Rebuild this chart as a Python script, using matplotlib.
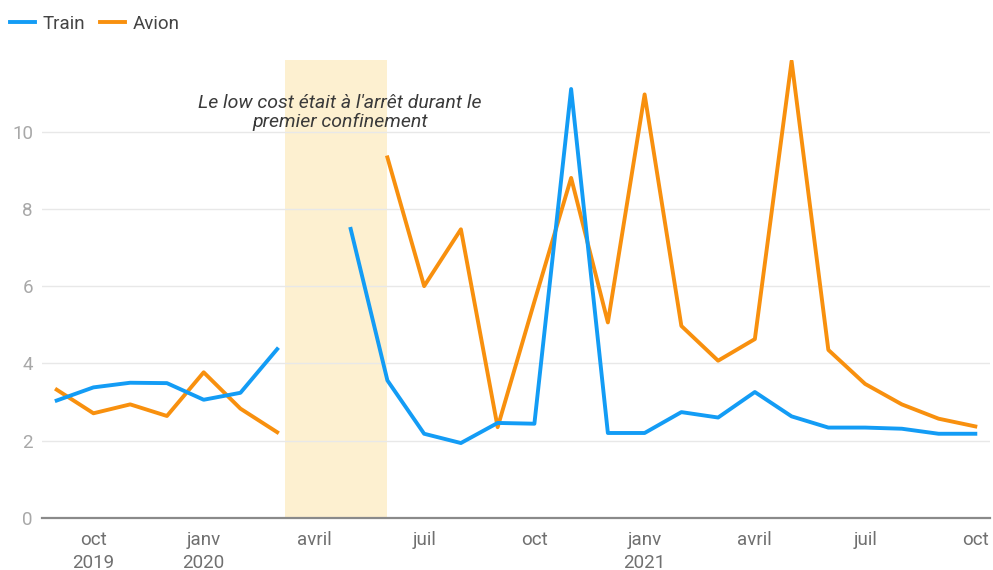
import numpy as np
import matplotlib.pyplot as plt

plt.rcParams['font.family'] = ['Roboto', 'DejaVu Sans']

# months from sept 2019 (0) to oct 2021 (25)
months = np.arange(26)

train = [3.04, 3.38, 3.50, 3.49, 3.06, 3.24, 4.37, np.nan, 7.48, 3.56,
         2.18, 1.94, 2.46, 2.44, 11.1, 2.2, 2.2, 2.74, 2.6, 3.26,
         2.63, 2.34, 2.34, 2.31, 2.18, 2.18]

avion = [3.32, 2.71, 2.94, 2.64, 3.77, 2.83, 2.22, np.nan, np.nan, 9.33,
         6.0, 7.47, 2.35, 5.6, 8.8, 5.06, 10.96, 4.97, 4.07, 4.63,
         11.82, 4.35, 3.47, 2.94, 2.57, 2.37]

tick_pos = [1, 4, 7, 10, 13, 16, 19, 22, 25]
tick_labels = ["oct\n2019", "janv\n2020", "avril", "juil", "oct",
               "janv\n2021", "avril", "juil", "oct"]

y_ticks = [0, 2, 4, 6, 8, 10]

# first lockdown, in month units
lockdown_start = 6.2
lockdown_end = 9.0

fig = plt.figure(figsize=(9.93, 5.70), dpi=100)
ax = fig.add_axes([0.0423, 0.0912, 0.9547, 0.8035])

ax.axvspan(lockdown_start, lockdown_end, color="#fdf0d0", lw=0, zorder=0)

ax.plot(months, train, color="#139cf5", lw=2.8, label="Train", zorder=3,
        solid_joinstyle="round")
ax.plot(months, avion, color="#f8900e", lw=2.8, label="Avion", zorder=2,
        solid_joinstyle="round")

ax.set_xlim(-0.4, 25.4)
ax.set_ylim(0, 11.85)

ax.set_yticks(y_ticks)
ax.set_xticks(tick_pos)
ax.set_xticklabels(tick_labels, linespacing=1.4)

ax.grid(axis="y", color="#e8e8e8", lw=1)
ax.set_axisbelow(True)
for s in ["top", "right", "left"]:
    ax.spines[s].set_visible(False)
ax.spines["bottom"].set_color("#8a8a8a")
ax.spines["bottom"].set_linewidth(1.6)
ax.spines["bottom"].set_zorder(4)

ax.tick_params(axis="both", length=0)
ax.tick_params(axis="x", pad=9, labelsize=13.5, labelcolor="#707070")
ax.tick_params(axis="y", pad=6.5, labelsize=13.5, labelcolor="#a8a8a8")

ax.text(7.71, 10.49, "Le low cost était à l'arrêt durant le\npremier confinement",
        ha="center", va="center", style="italic", fontsize=14,
        color="#3a3a3a", linespacing=1.1, zorder=5)

fig.legend(loc="center left", bbox_to_anchor=(10 / 993, 1 - 24 / 570), ncol=2,
           frameon=False, fontsize=13.5, borderpad=0, borderaxespad=0,
           handlelength=1.33, handletextpad=0.43, columnspacing=0.75,
           labelcolor="#444444")

fig.savefig("out.png", dpi=100)
